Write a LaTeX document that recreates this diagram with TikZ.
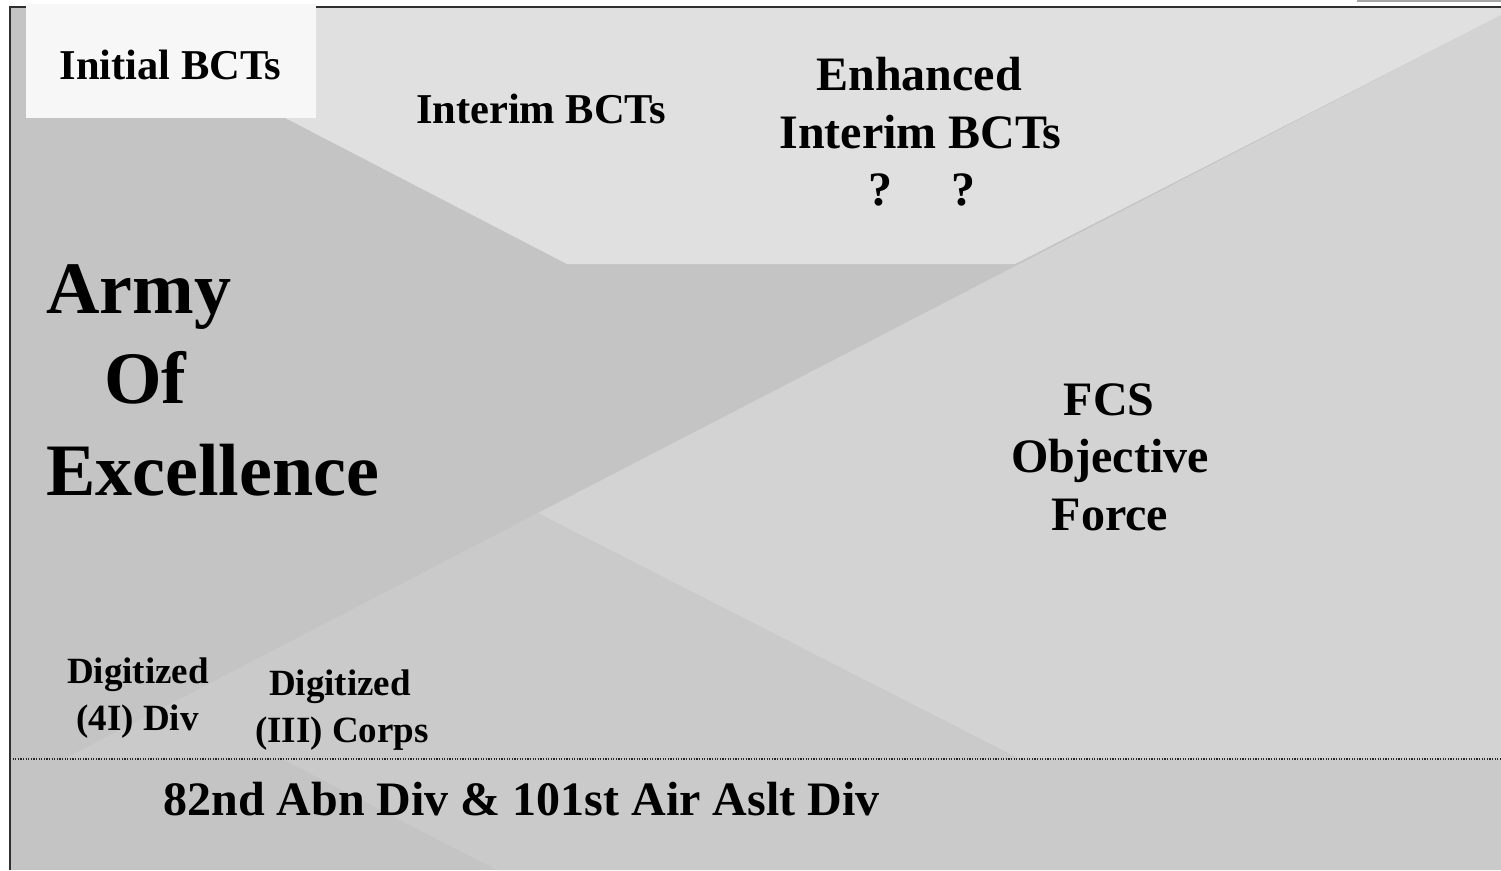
\documentclass[tikz,border=0pt]{standalone}
\usepackage{fontspec}
\setmainfont{Liberation Serif}
\definecolor{baseGray}{HTML}{C4C4C4}
\definecolor{lowGray}{HTML}{CACACA}
\definecolor{fcsGray}{HTML}{D3D3D3}
\definecolor{topGray}{HTML}{E0E0E0}
\definecolor{boxWhite}{HTML}{F7F7F7}
\definecolor{frameGray}{HTML}{303030}
\begin{document}
\begin{tikzpicture}[x=1pt,y=-1pt,
  lbl/.style={inner sep=0pt, anchor=base, text=black},
  lblL/.style={lbl, anchor=base west},
  fMid/.style={font=\fontsize{42.5}{50}\selectfont\bfseries},
  fBig/.style={font=\fontsize{48}{57}\selectfont\bfseries},
  fHuge/.style={font=\fontsize{74}{88}\selectfont\bfseries},
  fSmall/.style={font=\fontsize{37}{45}\selectfont\bfseries},
  framestyle/.style={line width=1.3pt, draw=frameGray}]
\useasboundingbox (0,0) rectangle (1501,870);
% background areas
\fill[baseGray] (10,7) rectangle (1501,870);
\fill[lowGray] (538,513) -- (1020,759) -- (64,759) -- cycle;
\fill[lowGray] (282,759) -- (1501,759) -- (1501,870) -- (497,870) -- cycle;
\fill[fcsGray] (1501,15) -- (538,513) -- (1020,759) -- (1501,759) -- cycle;
\fill[topGray] (71,7) -- (1501,7) -- (1501,15) -- (1015,264) -- (567,264) -- cycle;
% frame
\coordinate (frTR) at (1501,7);
\coordinate (frTL) at (10,7);
\coordinate (frBL) at (10,870);
\draw[framestyle] (frTR) -- (frTL) -- (frBL);
% small bar at top right
\fill[gray!70] (1357,0) rectangle (1501,2);
% white box
\fill[boxWhite] (26,4) rectangle (316,118);
% dotted separator
\coordinate (dotL) at (10,759);
\coordinate (dotR) at (1501,759);
\draw[line width=1.1pt, draw=black!85, dash pattern=on 1.1pt off 1.5pt] (dotL) -- (dotR);
% texts
\node[lbl,fMid] (init) at (170.5,79) {Initial BCTs};
\node[lbl,fMid] (interim) at (541,123) {Interim BCTs};
\node[lbl,fBig] (enhA) at (919,90) {Enhanced};
\node[lbl,fBig] (enhB) at (920.5,148) {Interim BCTs};
\node[lbl,fBig] (enhC) at (921.5,205) {?\hspace{59pt}?};
\node[lblL,fHuge] (aoeA) at (46,313) {Army};
\node[lblL,fHuge] (aoeB) at (104,403) {Of};
\node[lblL,fHuge] (aoeC) at (46,495) {Excellence};
\node[lbl,fBig] (fcsA) at (1109,415) {FCS};
\node[lbl,fBig] (fcsB) at (1110,472) {Objective};
\node[lbl,fBig] (fcsC) at (1110,530) {Force};
\node[lbl,fSmall] (digA1) at (138,683) {Digitized};
\node[lbl,fSmall] (digA2) at (137.5,730) {(4I) Div};
\node[lbl,fSmall] (digB1) at (340,695) {Digitized};
\node[lbl,fSmall] (digB2) at (342,742) {(III) Corps};
\node[lbl,fBig] (abn) at (521.5,815) {82nd Abn Div \& 101st Air Aslt Div};
\end{tikzpicture}
\end{document}
